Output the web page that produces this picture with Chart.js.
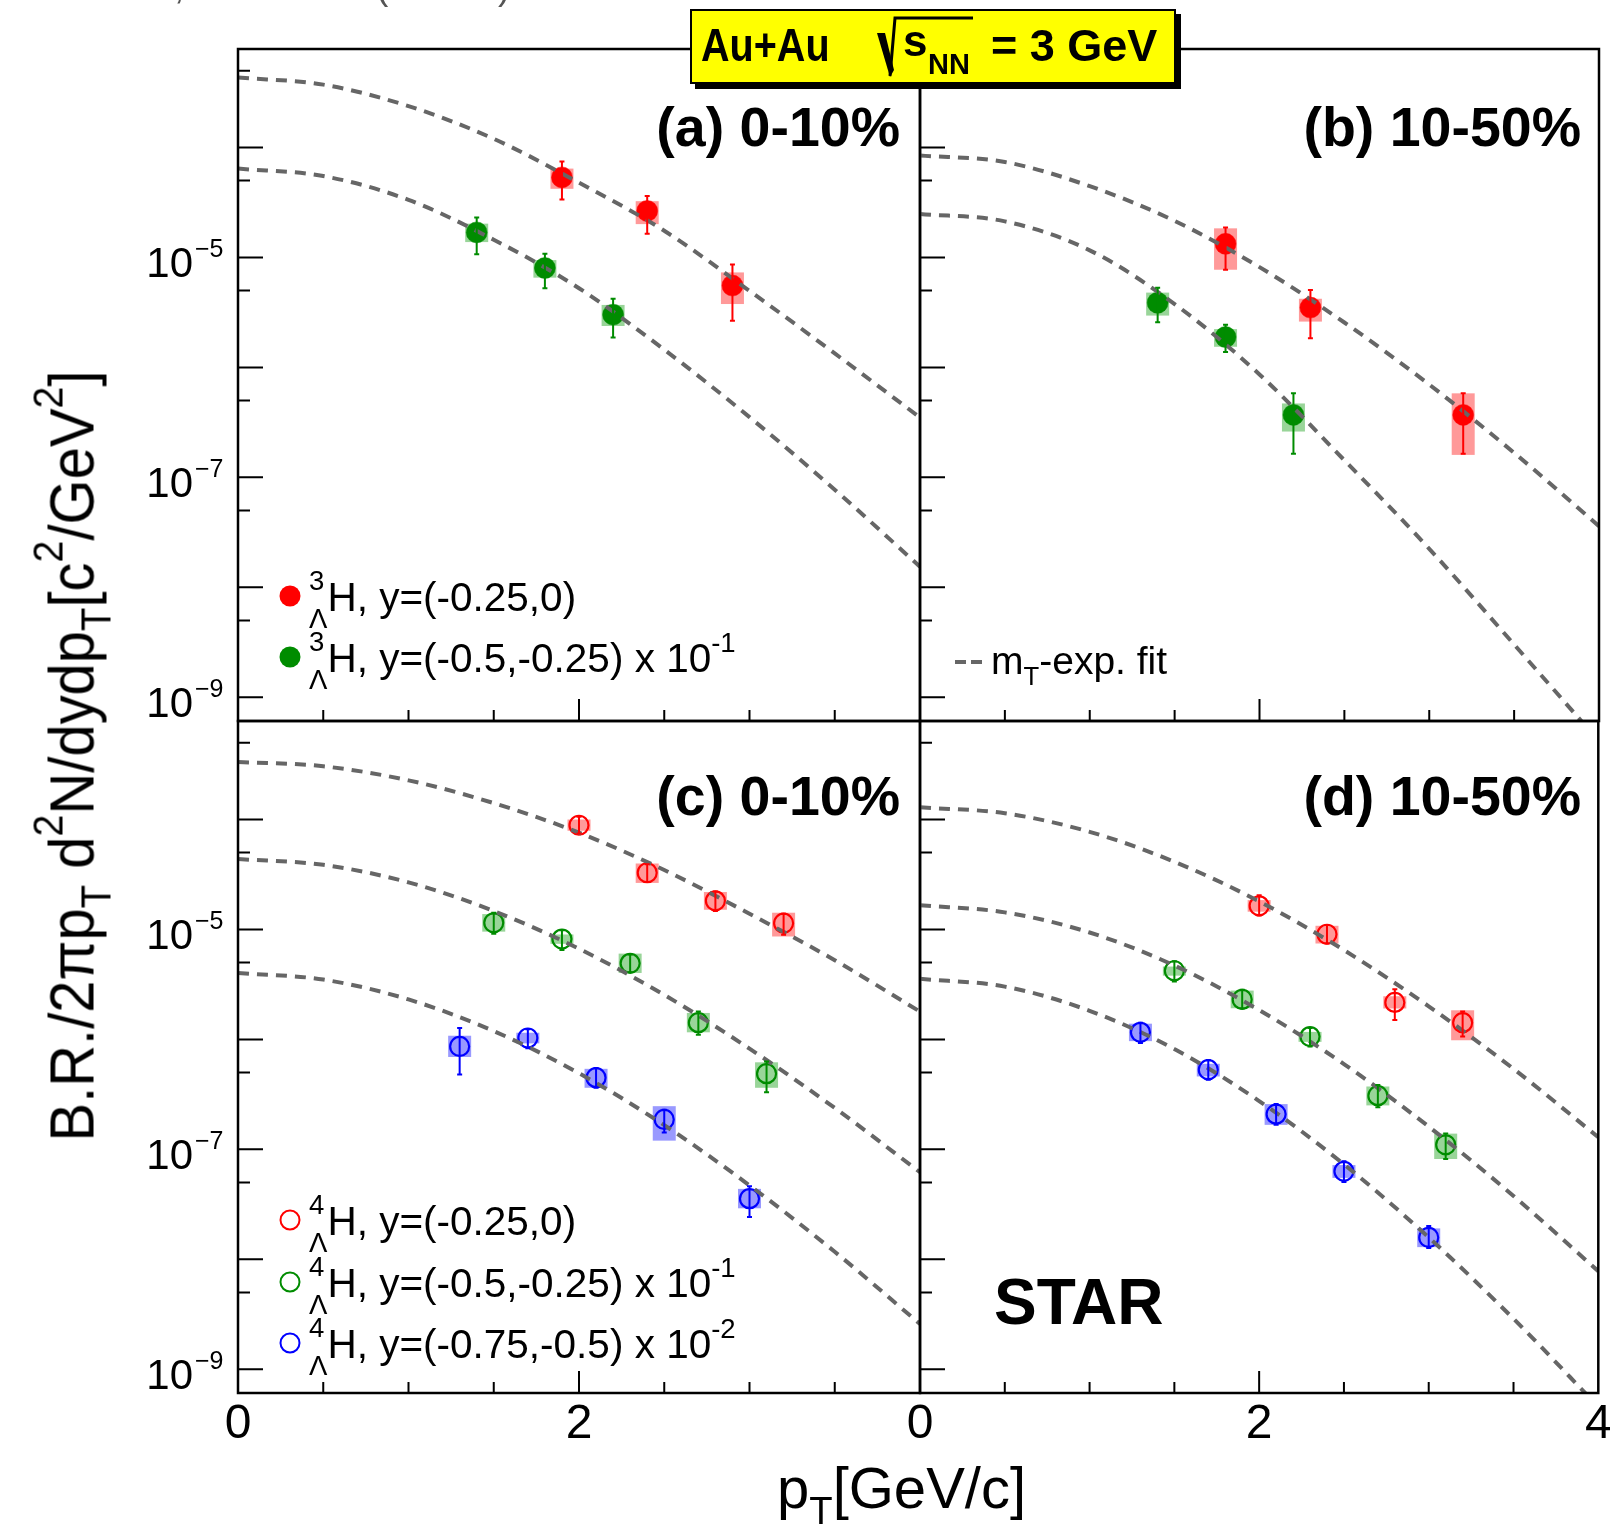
<!DOCTYPE html>
<html lang="en">
<head>
<meta charset="UTF-8">
<title>Au+Au 3 GeV hypernuclei spectra</title>
<script src="https://cdn.jsdelivr.net/npm/chart.js"></script>
<style>
  body { margin: 0; background: #fff; }
  #page {
    position: relative; width: 1610px; height: 1533px; overflow: hidden; background: #fff;
    font-family: "Liberation Sans", Arial, Helvetica, sans-serif; color: #000;
  }
  #page canvas { position: absolute; left: 0; top: 0; }
  .t { position: absolute; white-space: nowrap; line-height: 1; }
  .b { font-weight: bold; }
  .up { font-size: .68em; position: relative; top: -.74em; }
  .dn { font-size: .68em; position: relative; top: .63em; margin-left: -.556em; }
  .sup { font-size: .68em; position: relative; top: -.72em; }
  .sub { font-size: .66em; position: relative; top: .42em; }
  .mk { position: absolute; width: 21px; height: 21px; border-radius: 50%; box-sizing: border-box; transform: translate(-50%, -50%); }
  .dash { position: absolute; width: 11px; height: 4px; background: #666; }
  #header {
    position: absolute; left: 690px; top: 9px; width: 486px; height: 75px; box-sizing: border-box;
    background: #ffff00; border: 2.5px solid #000; box-shadow: 5px 5px 0 #000;
  }
</style>
</head>
<body>
<div id="page">
  <canvas id="panelA" width="1610" height="1533"></canvas>
  <canvas id="panelB" width="1610" height="1533"></canvas>
  <canvas id="panelC" width="1610" height="1533"></canvas>
  <canvas id="panelD" width="1610" height="1533"></canvas>
  <div id="header"></div>
  <svg style="position:absolute;left:0;top:0" width="1610" height="100">
    <polygon points="877,33 885,33 894,70 890,77" fill="#000"/>
    <polyline points="890,76 895,18 973,18" fill="none" stroke="#000" stroke-width="3"/>
  </svg>
</div>

<script>
"use strict";

// ---------- axes ----------
const Y_MIN = 6.08e-10;          // bottom of every panel
const Y_MAX = 7.87e-4;           // top of every panel
const DECADES = [-9, -8, -7, -6, -5, -4];
const Y_LABEL_EXP = [-5, -7, -9];
const X_TICKS = [0.5, 1, 1.5, 2, 2.5, 3, 3.5];
const X_MAJOR = [2];

const FIT_PT = [0, 0.5, 1, 1.5, 2, 2.5, 3, 3.5, 4];

// ---------- (a) 3LH, 0-10% ----------
const a_fit_y0 = [4.33e-4, 3.73e-4, 2.38e-4, 1.20e-4, 4.79e-5, 1.75e-5, 4.97e-6, 1.34e-6, 3.50e-7];
const a_fit_y1 = [6.43e-5, 5.50e-5, 3.34e-5, 1.45e-5, 5.25e-6, 1.45e-6, 3.53e-7, 7.73e-8, 1.54e-8];
const a_y0_pt = [1.9, 2.4, 2.9];
const a_y0 = [5.35e-5, 2.65e-5, 5.55e-6];
const a_y0_stat = [[3.37e-5, 7.45e-5], [1.64e-5, 3.63e-5], [2.65e-6, 8.63e-6]];
const a_y0_sys = [[4.21e-5, 6.43e-5], [2.01e-5, 3.25e-5], [3.77e-6, 7.31e-6]];
const a_y1_pt = [1.4, 1.8, 2.2];
const a_y1 = [1.69e-5, 8.02e-6, 3.02e-6];
const a_y1_stat = [[1.07e-5, 2.31e-5], [5.25e-6, 1.08e-5], [1.87e-6, 4.21e-6]];
const a_y1_sys = [[1.38e-5, 2.03e-5], [6.55e-6, 9.46e-6], [2.38e-6, 3.70e-6]];

// ---------- (b) 3LH, 10-50% ----------
const b_fit_y0 = [8.47e-5, 7.38e-5, 4.45e-5, 2.15e-5, 8.17e-6, 2.56e-6, 6.98e-7, 1.67e-7, 3.60e-8];
const b_fit_y1 = [2.49e-5, 2.13e-5, 1.16e-5, 3.77e-6, 8.63e-7, 1.43e-7, 2.24e-8, 3.02e-9, 3.98e-10];
const b_y0_pt = [1.8, 2.3, 3.2];
const b_y0 = [1.33e-5, 3.50e-6, 3.70e-7];
const b_y0_stat = [[7.73e-6, 1.87e-5], [1.84e-6, 5.06e-6], [1.64e-7, 5.81e-7]];
const b_y0_sys = [[7.73e-6, 1.84e-5], [2.61e-6, 4.21e-6], [1.60e-7, 5.81e-7]];
const b_y1_pt = [1.4, 1.8, 2.2];
const b_y1 = [3.87e-6, 1.89e-6, 3.70e-7];
const b_y1_stat = [[2.58e-6, 5.30e-6], [1.38e-6, 2.44e-6], [1.64e-7, 5.81e-7]];
const b_y1_sys = [[2.96e-6, 4.79e-6], [1.54e-6, 2.23e-6], [2.61e-7, 4.70e-7]];

// ---------- (c) 4LH, 0-10% ----------
const c_fit_y0 = [3.34e-4, 3.05e-4, 2.27e-4, 1.41e-4, 7.59e-5, 3.47e-5, 1.39e-5, 5.25e-6, 1.79e-6];
const c_fit_y1 = [4.37e-5, 3.87e-5, 2.68e-5, 1.47e-5, 6.67e-6, 2.54e-6, 8.24e-7, 2.38e-7, 6.19e-8];
const c_fit_y2 = [4.02e-6, 3.50e-6, 2.31e-6, 1.19e-6, 4.92e-7, 1.66e-7, 4.70e-8, 1.17e-8, 2.58e-9];
const c_y0_pt = [2.0, 2.4, 2.8, 3.2];
const c_y0 = [8.87e-5, 3.28e-5, 1.82e-5, 1.14e-5];
const c_y0_stat = [[7.45e-5, 1.06e-4], [2.70e-5, 3.91e-5], [1.47e-5, 2.21e-5], [8.95e-6, 1.39e-5]];
const c_y0_sys = [[7.9e-5, 1.0e-4], [2.65e-5, 3.98e-5], [1.51e-5, 2.19e-5], [8.63e-6, 1.42e-5]];
const c_y1_pt = [1.5, 1.9, 2.3, 2.7, 3.1];
const c_y1 = [1.15e-5, 8.17e-6, 4.92e-6, 1.42e-6, 4.88e-7];
const c_y1_stat = [[9.12e-6, 1.42e-5], [6.49e-6, 9.82e-6], [4.09e-6, 5.92e-6], [1.10e-6, 1.79e-6], [3.31e-7, 6.31e-7]];
const c_y1_sys = [[9.55e-6, 1.38e-5], [7.4e-6, 9.0e-6], [4.02e-6, 6.03e-6], [1.16e-6, 1.74e-6], [3.63e-7, 6.19e-7]];
const c_y2_pt = [1.3, 1.7, 2.1, 2.5, 3.0];
const c_y2 = [8.63e-7, 1.03e-6, 4.49e-7, 1.87e-7, 3.56e-8];
const c_y2_stat = [[4.79e-7, 1.27e-6], [8.32e-7, 1.24e-6], [3.63e-7, 5.50e-7], [1.42e-7, 2.29e-7], [2.42e-8, 4.61e-8]];
const c_y2_sys = [[6.92e-7, 1.08e-6], [9.2e-7, 1.15e-6], [3.63e-7, 5.40e-7], [1.20e-7, 2.47e-7], [2.91e-8, 4.37e-8]];

// ---------- (d) 4LH, 10-50% ----------
const d_fit_y0 = [1.29e-4, 1.14e-4, 7.73e-5, 4.13e-5, 1.80e-5, 6.49e-6, 2.0e-6, 5.40e-7, 1.29e-7];
const d_fit_y1 = [1.66e-5, 1.43e-5, 9.38e-6, 4.70e-6, 1.85e-6, 5.97e-7, 1.61e-7, 3.77e-8, 7.80e-9];
const d_fit_y2 = [3.56e-6, 3.02e-6, 1.82e-6, 8.17e-7, 2.75e-7, 7.31e-8, 1.58e-8, 2.88e-9, 4.57e-10];
const d_y0_pt = [2.0, 2.4, 2.8, 3.2];
const d_y0 = [1.64e-5, 9.04e-6, 2.17e-6, 1.42e-6];
const d_y0_stat = [[1.34e-5, 2.05e-5], [7.45e-6, 1.10e-5], [1.50e-6, 2.86e-6], [1.06e-6, 1.79e-6]];
const d_y0_sys = [[1.45e-5, 1.85e-5], [7.45e-6, 1.08e-5], [1.91e-6, 2.47e-6], [9.82e-7, 1.84e-6]];
const d_y1_pt = [1.5, 1.9, 2.3, 2.7, 3.1];
const d_y1 = [4.21e-6, 2.31e-6, 1.06e-6, 3.08e-7, 1.10e-7];
const d_y1_stat = [[3.37e-6, 5.15e-6], [1.91e-6, 2.83e-6], [8.63e-7, 1.27e-6], [2.42e-7, 3.84e-7], [8.17e-8, 1.39e-7]];
const d_y1_sys = [[3.8e-6, 4.6e-6], [1.92e-6, 2.78e-6], [9.5e-7, 1.17e-6], [2.51e-7, 3.73e-7], [8.17e-8, 1.39e-7]];
const d_y2_pt = [1.3, 1.7, 2.1, 2.5, 3.0];
const d_y2 = [1.16e-6, 5.30e-7, 2.09e-7, 6.31e-8, 1.58e-8];
const d_y2_stat = [[9.29e-7, 1.42e-6], [4.29e-7, 6.49e-7], [1.67e-7, 2.58e-7], [5.06e-8, 7.80e-8], [1.27e-8, 2.01e-8]];
const d_y2_sys = [[9.64e-7, 1.39e-6], [4.6e-7, 6.0e-7], [1.67e-7, 2.58e-7], [5.5e-8, 7.2e-8], [1.29e-8, 1.91e-8]];

// ---------- styles ----------
const RED = '#ff0000', GREEN = '#008c00', BLUE = '#0000ff';
const RED_BOX = 'rgba(255,0,0,0.4)', GREEN_BOX = 'rgba(0,150,0,0.4)', BLUE_BOX = 'rgba(0,0,255,0.4)';
const FIT_COLOR = '#666666';
const FONT = '"Liberation Sans", Arial, sans-serif';
const W = 1610, H = 1533;

// frame boxes of the four panels on the page
const BOX = {
  a: { left: 238, top: 49, right: 920, bottom: 721 },
  b: { left: 920, top: 49, right: 1602, bottom: 721 },
  c: { left: 238, top: 721, right: 920, bottom: 1393 },
  d: { left: 920, top: 721, right: 1602, bottom: 1393 }
};

// sys boxes under the markers, stat bars on top
const errorBars = {
  id: 'errorBars',
  beforeDatasetsDraw(chart) {
    const { ctx, chartArea: a } = chart;
    const x = chart.scales.x, y = chart.scales.y;
    ctx.save();
    ctx.beginPath();
    ctx.rect(a.left, a.top, a.right - a.left, a.bottom - a.top);
    ctx.clip();
    chart.data.datasets.forEach(ds => {
      if (!ds.sys) return;
      ctx.fillStyle = ds.boxColor;
      ds.data.forEach((p, i) => {
        const px = x.getPixelForValue(p.x);
        const top = y.getPixelForValue(ds.sys[i][1]);
        const bot = y.getPixelForValue(ds.sys[i][0]);
        ctx.fillRect(px - 11.5, top, 23, bot - top);
      });
    });
    ctx.restore();
  },
  afterDatasetsDraw(chart) {
    const { ctx } = chart;
    const x = chart.scales.x, y = chart.scales.y;
    ctx.save();
    ctx.lineWidth = 2;
    chart.data.datasets.forEach(ds => {
      if (!ds.stat) return;
      ctx.strokeStyle = ds.markColor;
      ctx.beginPath();
      ds.data.forEach((p, i) => {
        const px = x.getPixelForValue(p.x);
        const top = y.getPixelForValue(ds.stat[i][1]);
        const bot = y.getPixelForValue(ds.stat[i][0]);
        ctx.moveTo(px, top); ctx.lineTo(px, bot);
        ctx.moveTo(px - 2.5, top); ctx.lineTo(px + 2.5, top);
        ctx.moveTo(px - 2.5, bot); ctx.lineTo(px + 2.5, bot);
      });
      ctx.stroke();
    });
    ctx.restore();
  }
};

// ROOT-like frame: ticks inside, labels outside
const rootFrame = {
  id: 'rootFrame',
  afterDraw(chart, _args, opts) {
    const { ctx, chartArea: a } = chart;
    const x = chart.scales.x, y = chart.scales.y;
    ctx.save();
    ctx.strokeStyle = '#000';
    ctx.lineWidth = 2;
    ctx.beginPath();
    DECADES.forEach(n => {
      const p = y.getPixelForValue(Math.pow(10, n));
      ctx.moveTo(a.left, p); ctx.lineTo(a.left + 25, p);
      const q = y.getPixelForValue(5 * Math.pow(10, n));
      if (q > a.top + 1 && q < a.bottom - 1) { ctx.moveTo(a.left, q); ctx.lineTo(a.left + 12, q); }
    });
    X_TICKS.forEach(v => {
      const p = x.getPixelForValue(v);
      const len = X_MAJOR.includes(v) ? 22 : 11;
      ctx.moveTo(p, a.bottom); ctx.lineTo(p, a.bottom - len);
    });
    ctx.stroke();
    ctx.lineWidth = 2.5;
    ctx.strokeRect(a.left, a.top, a.right - a.left, a.bottom - a.top);

    ctx.fillStyle = '#000';
    ctx.textBaseline = 'alphabetic';
    if (opts.yLabels) {
      Y_LABEL_EXP.forEach(n => {
        const p = y.getPixelForValue(Math.pow(10, n));
        ctx.font = '42px ' + FONT;
        ctx.textAlign = 'right';
        ctx.fillText('10', a.left - 45, p + 20);
        ctx.font = '25px ' + FONT;
        ctx.textAlign = 'left';
        ctx.fillText('\u2212' + (-n), a.left - 43, p);
      });
    }
    (opts.xLabels || []).forEach(v => {
      ctx.font = '48px ' + FONT;
      ctx.textAlign = 'center';
      ctx.fillText(String(v), x.getPixelForValue(v), a.bottom + 45);
    });
    ctx.restore();
  }
};

function makePanel(id, box, fits, series, frameOpts) {
  const datasets = [];
  fits.forEach(f => datasets.push({
    type: 'line',
    data: FIT_PT.map((p, i) => ({ x: p, y: f[i] })),
    borderColor: FIT_COLOR,
    borderWidth: 4,
    borderDash: [11, 8],
    pointRadius: 0,
    fill: false,
    cubicInterpolationMode: 'monotone'
  }));
  series.forEach(s => datasets.push({
    type: 'scatter',
    data: s.pt.map((p, i) => ({ x: p, y: s.val[i] })),
    pointStyle: 'circle',
    pointRadius: s.open ? 9.5 : 10.5,
    pointBackgroundColor: s.open ? 'rgba(0,0,0,0)' : s.color,
    pointBorderColor: s.color,
    pointBorderWidth: s.open ? 2.2 : 0.5,
    stat: s.stat,
    sys: s.sys,
    markColor: s.color,
    boxColor: s.box
  }));

  return new Chart(document.getElementById(id), {
    type: 'scatter',
    data: { datasets },
    options: {
      responsive: false,
      animation: false,
      devicePixelRatio: 1,
      events: [],
      layout: { padding: { left: box.left, top: box.top, right: W - box.right, bottom: H - box.bottom } },
      scales: {
        x: { type: 'linear', min: 0, max: 4, display: false },
        y: { type: 'logarithmic', min: Y_MIN, max: Y_MAX, display: false }
      },
      plugins: {
        legend: { display: false },
        tooltip: { enabled: false },
        rootFrame: frameOpts
      }
    },
    plugins: [errorBars, rootFrame]
  });
}

makePanel('panelA', BOX.a, [a_fit_y0, a_fit_y1], [
  { pt: a_y0_pt, val: a_y0, stat: a_y0_stat, sys: a_y0_sys, color: RED, box: RED_BOX },
  { pt: a_y1_pt, val: a_y1, stat: a_y1_stat, sys: a_y1_sys, color: GREEN, box: GREEN_BOX }
], { yLabels: true });

makePanel('panelB', BOX.b, [b_fit_y0, b_fit_y1], [
  { pt: b_y0_pt, val: b_y0, stat: b_y0_stat, sys: b_y0_sys, color: RED, box: RED_BOX },
  { pt: b_y1_pt, val: b_y1, stat: b_y1_stat, sys: b_y1_sys, color: GREEN, box: GREEN_BOX }
], {});

makePanel('panelC', BOX.c, [c_fit_y0, c_fit_y1, c_fit_y2], [
  { pt: c_y0_pt, val: c_y0, stat: c_y0_stat, sys: c_y0_sys, color: RED, box: RED_BOX, open: true },
  { pt: c_y1_pt, val: c_y1, stat: c_y1_stat, sys: c_y1_sys, color: GREEN, box: GREEN_BOX, open: true },
  { pt: c_y2_pt, val: c_y2, stat: c_y2_stat, sys: c_y2_sys, color: BLUE, box: BLUE_BOX, open: true }
], { yLabels: true, xLabels: [0, 2] });

makePanel('panelD', BOX.d, [d_fit_y0, d_fit_y1, d_fit_y2], [
  { pt: d_y0_pt, val: d_y0, stat: d_y0_stat, sys: d_y0_sys, color: RED, box: RED_BOX, open: true },
  { pt: d_y1_pt, val: d_y1, stat: d_y1_stat, sys: d_y1_sys, color: GREEN, box: GREEN_BOX, open: true },
  { pt: d_y2_pt, val: d_y2, stat: d_y2_stat, sys: d_y2_sys, color: BLUE, box: BLUE_BOX, open: true }
], { xLabels: [0, 2, 4] });

// ---------- text overlays ----------
const page = document.getElementById('page');

// place a line of text by its baseline
function put(html, x, base, size, opt = {}) {
  const el = document.createElement('div');
  el.className = 't' + (opt.bold ? ' b' : '');
  el.style.fontSize = size + 'px';
  el.style.top = (base - 0.8465 * size) + 'px';
  if (opt.right) el.style.right = (W - x) + 'px';
  else el.style.left = x + 'px';
  if (opt.color) el.style.color = opt.color;
  el.innerHTML = html;
  page.appendChild(el);
  return el;
}

function marker(cx, cy, color, open) {
  const el = document.createElement('div');
  el.className = 'mk';
  el.style.left = cx + 'px';
  el.style.top = cy + 'px';
  if (open) el.style.border = '2.2px solid ' + color;
  else el.style.background = color;
  page.appendChild(el);
}

// cut-off caption remnants at the very top
put(',', 174, -1, 37, { color: '#555' });
put('(', 376, -1, 37, { color: '#555' });
put(')', 498, -1, 37, { color: '#555' });

// header
const au = put('Au+Au', 701, 61, 46, { bold: true });
au.style.transformOrigin = 'left center';
au.style.transform = 'scaleX(0.86)';
put('s', 903, 56, 44, { bold: true });
put('NN', 928, 75, 29, { bold: true });
put('= 3 GeV', 991, 61, 45, { bold: true });

// panel labels
put('(a) 0-10%', 900, 147, 55.5, { bold: true, right: true });
put('(b) 10-50%', 1581, 147, 55.5, { bold: true, right: true });
put('(c) 0-10%', 900, 816, 55.5, { bold: true, right: true });
put('(d) 10-50%', 1581, 816, 55.5, { bold: true, right: true });
put('STAR', 994, 1324, 64, { bold: true });

// legends
const L3 = '<span class="up">3</span><span class="dn">&Lambda;</span>H, ';
const L4 = '<span class="up">4</span><span class="dn">&Lambda;</span>H, ';
marker(290, 596, RED, false);
put(L3 + 'y=(-0.25,0)', 309, 611, 40.5);
marker(290, 657, GREEN, false);
put(L3 + 'y=(-0.5,-0.25) x 10<span class="sup">-1</span>', 309, 672, 40.5);

[955, 971].forEach(x0 => {
  const d = document.createElement('div');
  d.className = 'dash';
  d.style.left = x0 + 'px';
  d.style.top = '660px';
  page.appendChild(d);
});
put('m<span class="sub">T</span>-exp. fit', 991, 674, 39);

marker(290, 1220, RED, true);
put(L4 + 'y=(-0.25,0)', 309, 1235, 40.5);
marker(290, 1282, GREEN, true);
put(L4 + 'y=(-0.5,-0.25) x 10<span class="sup">-1</span>', 309, 1297, 40.5);
marker(290, 1343, BLUE, true);
put(L4 + 'y=(-0.75,-0.5) x 10<span class="sup">-2</span>', 309, 1358, 40.5);

// axis titles
put('p<span class="sub">T</span>[GeV/c]', 777, 1508, 58);
const yTitle = put('B.R./2&pi;p<span class="sub">T</span> d<span class="sup">2</span>N/dydp<span class="sub">T</span>[c<span class="sup">2</span>/GeV<span class="sup">2</span>]', 0, 0, 63);
yTitle.style.left = '72px';
yTitle.style.top = '756px';
yTitle.style.transform = 'translate(-50%, -50%) rotate(-90deg) scaleX(0.92)';
</script>
</body>
</html>
